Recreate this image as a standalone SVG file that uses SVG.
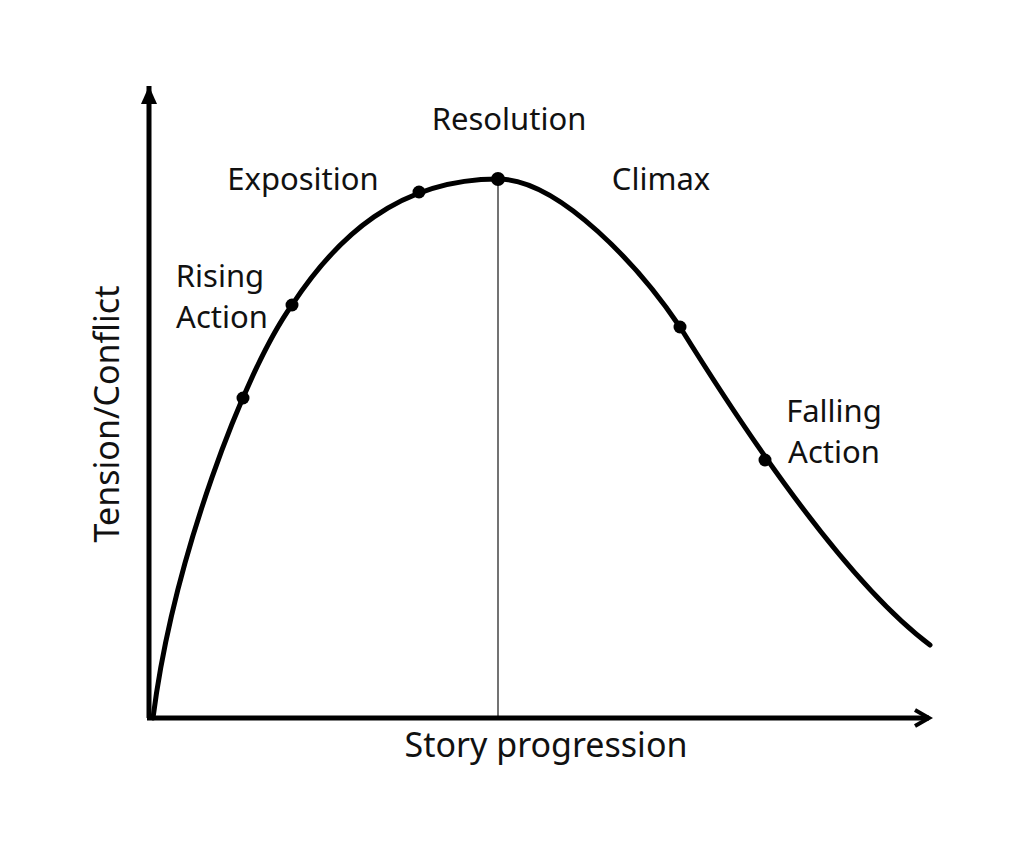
<svg xmlns="http://www.w3.org/2000/svg" width="1024" height="843" viewBox="0 0 1024 843">
<style>
.t{font-family:"Noto Sans","DejaVu Sans",sans-serif;font-size:31px;fill:#111;text-anchor:middle}
.ax{stroke:#000;stroke-width:5;fill:none}
.dot{fill:#000}
</style>
<defs>
<marker id="up" markerWidth="20" markerHeight="16" refX="18" refY="8" orient="auto" markerUnits="userSpaceOnUse">
<path d="M0,0 L18,8 L0,16 Z" fill="#000"/>
</marker>
<marker id="rt" markerWidth="20" markerHeight="20" refX="16" refY="10" orient="auto" markerUnits="userSpaceOnUse">
<path d="M2,2 L16,10 L2,18" fill="none" stroke="#000" stroke-width="4"/>
</marker>
</defs>
<rect width="1024" height="843" fill="#fff"/>
<g id="connectors">
<line x1="498" y1="181" x2="498" y2="716" stroke="#444" stroke-width="1.5"/>
<path class="ax" d="M149,718 L149,86" marker-end="url(#up)"/>
<path class="ax" d="M147,718 L929,718" marker-end="url(#rt)"/>
<path d="M153,718 C173,560 244,372 292,305 C336,238 398,179 498,179 C560,179 641,269 680,327 C754,446 850,585 930,645" fill="none" stroke="#000" stroke-width="5" stroke-linecap="round" stroke-linejoin="round"/>
</g>
<g id="dots">
<circle class="dot" cx="243" cy="398" r="6.5"/>
<circle class="dot" cx="292" cy="305" r="6.5"/>
<circle class="dot" cx="419" cy="192" r="6.5"/>
<circle class="dot" cx="498" cy="179" r="7"/>
<circle class="dot" cx="680" cy="327" r="6.5"/>
<circle class="dot" cx="765" cy="460" r="6.5"/>
</g>
<g id="labels">
<text class="t" x="509" y="130">Resolution</text>
<text class="t" x="303" y="190">Exposition</text>
<text class="t" x="661" y="190">Climax</text>
<text class="t" x="220" y="287">Rising</text>
<text class="t" x="222" y="328">Action</text>
<text class="t" x="834" y="422">Falling</text>
<text class="t" x="834" y="463">Action</text>
<text class="t" x="546" y="757" style="font-size:34px">Story progression</text>
<text class="t" transform="translate(119,414) rotate(-90)" style="font-size:34px">Tension/Conflict</text>
</g>
</svg>
